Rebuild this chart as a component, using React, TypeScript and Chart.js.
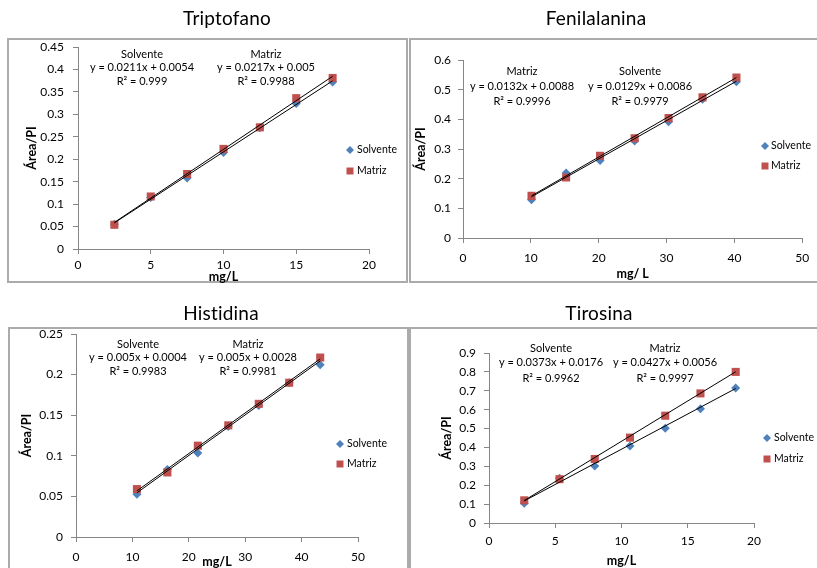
import React, { useEffect, useRef } from 'react';
import { Chart, registerables } from 'chart.js';

Chart.register(...registerables);

const FONT = 'Lato, "Liberation Sans", sans-serif';
const BLUE = '#4F81BD';
const RED = '#C0504D';
const AXIS = '#868686';

// ---- Triptofano ----
const tripX = [2.5, 5, 7.5, 10, 12.5, 15, 17.5];
const tripSolvente = [0.055, 0.115, 0.158, 0.215, 0.27, 0.324, 0.372];
const tripMatriz = [0.054, 0.117, 0.167, 0.223, 0.271, 0.336, 0.381];
const tripFitSolvente = [0.0211, 0.0054]; // slope, intercept
const tripFitMatriz = [0.0217, 0.005];
const tripR2 = [0.999, 0.9988]; // Solvente, Matriz

// ---- Fenilalanina ----
const fenX = [10.1, 15.2, 20.2, 25.3, 30.3, 35.3, 40.3];
const fenSolvente = [0.129, 0.219, 0.261, 0.327, 0.392, 0.468, 0.527];
const fenMatriz = [0.142, 0.204, 0.277, 0.336, 0.404, 0.474, 0.541];
const fenFitSolvente = [0.0129, 0.0086];
const fenFitMatriz = [0.0132, 0.0088];
const fenR2 = [0.9979, 0.9996];

// ---- Histidina ----
const hisX = [10.8, 16.2, 21.6, 27.0, 32.4, 37.8, 43.3];
const hisSolvente = [0.0525, 0.083, 0.1035, 0.136, 0.162, 0.19, 0.212];
const hisMatriz = [0.059, 0.0795, 0.1125, 0.1375, 0.164, 0.19, 0.221];
const hisFitSolvente = [0.005, 0.0004];
const hisFitMatriz = [0.005, 0.0028];
const hisR2 = [0.9983, 0.9981];

// ---- Tirosina ----
const tirX = [2.66, 5.32, 7.98, 10.64, 13.3, 15.96, 18.62];
const tirSolvente = [0.105, 0.237, 0.302, 0.408, 0.501, 0.605, 0.715];
const tirMatriz = [0.12, 0.232, 0.339, 0.452, 0.568, 0.686, 0.8];
const tirFitSolvente = [0.0373, 0.0176];
const tirFitMatriz = [0.0427, 0.0056];
const tirR2 = [0.9962, 0.9997];

const SERIES = ['Solvente', 'Matriz'];

type Block = { series: number; cx: number; ys: number[] };
type Spec = {
  title: string;
  titleAt: [number, number];
  box: [number, number, number, number];
  canvas: [number, number, number, number];
  plot: [number, number, number, number];
  xMax: number;
  xStep: number;
  yMax: number;
  yStep: number;
  xs: number[];
  solvente: number[];
  matriz: number[];
  fits: number[][];
  r2: number[];
  xTitle: string;
  yTitleX: number;
  xTitleY: number;
  yTickRight: number;
  xTickY: number;
  legend: { x: number; ys: number[]; textX: number };
  blocks: Block[];
};

const panels: Spec[] = [
  {
    title: 'Triptofano',
    titleAt: [227, 19],
    box: [7, 38, 401, 245],
    canvas: [9, 0, 397, 290],
    plot: [78, 47, 369, 249],
    xMax: 20, xStep: 5, yMax: 0.45, yStep: 0.05,
    xs: tripX, solvente: tripSolvente, matriz: tripMatriz,
    fits: [tripFitSolvente, tripFitMatriz], r2: tripR2,
    xTitle: 'mg/L', yTitleX: 32, xTitleY: 277,
    yTickRight: 64, xTickY: 265.5,
    legend: { x: 350, ys: [150, 171], textX: 357 },
    blocks: [
      { series: 0, cx: 142, ys: [54, 67, 81] },
      { series: 1, cx: 266, ys: [54, 67, 81] },
    ],
  },
  {
    title: 'Fenilalanina',
    titleAt: [596, 19],
    box: [409, 38, 420, 245],
    canvas: [411, 0, 406, 290],
    plot: [463, 60, 804, 238],
    xMax: 50, xStep: 10, yMax: 0.6, yStep: 0.1,
    xs: fenX, solvente: fenSolvente, matriz: fenMatriz,
    fits: [fenFitSolvente, fenFitMatriz], r2: fenR2,
    xTitle: 'mg/ L', yTitleX: 421, xTitleY: 274,
    yTickRight: 451, xTickY: 258,
    legend: { x: 765, ys: [146, 166], textX: 771 },
    blocks: [
      { series: 1, cx: 522, ys: [71, 86, 101] },
      { series: 0, cx: 640, ys: [71, 86, 101] },
    ],
  },
  {
    title: 'Histidina',
    titleAt: [221, 314],
    box: [8, 327, 401, 260],
    canvas: [10, 295, 397, 283],
    plot: [76, 334, 358, 537],
    xMax: 50, xStep: 10, yMax: 0.25, yStep: 0.05,
    xs: hisX, solvente: hisSolvente, matriz: hisMatriz,
    fits: [hisFitSolvente, hisFitMatriz], r2: hisR2,
    xTitle: 'mg/L', yTitleX: 27, xTitleY: 562,
    yTickRight: 63, xTickY: 557,
    legend: { x: 340, ys: [444, 464], textX: 347 },
    blocks: [
      { series: 0, cx: 138, ys: [344, 357, 371] },
      { series: 1, cx: 248, ys: [344, 357, 371] },
    ],
  },
  {
    title: 'Tirosina',
    titleAt: [599, 314],
    box: [409, 327, 420, 260],
    canvas: [411, 295, 406, 283],
    plot: [489, 353, 754, 523],
    xMax: 20, xStep: 5, yMax: 0.9, yStep: 0.1,
    xs: tirX, solvente: tirSolvente, matriz: tirMatriz,
    fits: [tirFitSolvente, tirFitMatriz], r2: tirR2,
    xTitle: 'mg/L', yTitleX: 447, xTitleY: 561,
    yTickRight: 476, xTickY: 541,
    legend: { x: 767, ys: [438, 459], textX: 774 },
    blocks: [
      { series: 0, cx: 551, ys: [348, 362, 378] },
      { series: 1, cx: 665, ys: [348, 362, 378] },
    ],
  },
];

const TITLE_SIZE = 19;
const TICK_SIZE = 12;
const TICK_LEN = 5;
const AXIS_TITLE_SIZE = 12.5;
const NOTE_SIZE = 11;
const LEGEND_SIZE = 10.5;

const fmt = (v: number) => String(+v.toFixed(4));

// Linear trendline between the smallest and largest concentration.
function trend(xs: number[], fit: number[]) {
  const a = Math.min(...xs);
  const b = Math.max(...xs);
  return [
    { x: a, y: fit[0] * a + fit[1] },
    { x: b, y: fit[0] * b + fit[1] },
  ];
}

function drawMarker(ctx: CanvasRenderingContext2D, kind: number, x: number, y: number) {
  ctx.beginPath();
  if (kind === 0) {
    const r = 4;
    ctx.moveTo(x, y - r);
    ctx.lineTo(x + r, y);
    ctx.lineTo(x, y + r);
    ctx.lineTo(x - r, y);
    ctx.closePath();
    ctx.fillStyle = BLUE;
  } else {
    const s = 7;
    ctx.rect(x - s / 2, y - s / 2, s, s);
    ctx.fillStyle = RED;
  }
  ctx.fill();
}

function Panel({ spec }: { spec: Spec }) {
  const ref = useRef<HTMLCanvasElement>(null);

  useEffect(() => {
    const canvas = ref.current;
    if (!canvas) return;
    const [cl, ct, cw, ch] = spec.canvas;
    const [pl, pt, pr, pb] = spec.plot;
    const cr = cl + cw;
    const cb = ct + ch;
    const tickLH = TICK_SIZE * 1.2;
    const titleLH = AXIS_TITLE_SIZE * 1.2;

    // Chart title, regression labels and the legend.
    const notes = {
      id: 'notes',
      afterDraw(chart: Chart) {
        const ctx = chart.ctx as any;
        ctx.save();
        ctx.fillStyle = '#000';
        ctx.textAlign = 'center';
        ctx.textBaseline = 'middle';
        ctx.font = `${TITLE_SIZE}px ${FONT}`;
        ctx.letterSpacing = '0.2px';
        ctx.fillText(spec.title, spec.titleAt[0] - cl, spec.titleAt[1] - ct);
        ctx.letterSpacing = '0px';
        ctx.font = `${NOTE_SIZE}px ${FONT}`;
        for (const b of spec.blocks) {
          const fit = spec.fits[b.series];
          const lines = [
            SERIES[b.series],
            `y = ${fmt(fit[0])}x + ${fmt(fit[1])}`,
            `R² = ${fmt(spec.r2[b.series])}`,
          ];
          lines.forEach((s, i) => ctx.fillText(s, b.cx - cl, b.ys[i] - ct));
        }
        ctx.font = `${LEGEND_SIZE}px ${FONT}`;
        ctx.textAlign = 'left';
        SERIES.forEach((name, i) => {
          const y = spec.legend.ys[i] - ct;
          drawMarker(ctx, i, spec.legend.x - cl, y);
          ctx.fillStyle = '#000';
          ctx.fillText(name, spec.legend.textX - cl, y);
        });
        ctx.restore();
      },
    };

    const chart = new Chart(canvas, {
      type: 'scatter',
      data: {
        datasets: [
          {
            label: 'Solvente',
            data: spec.xs.map((x, i) => ({ x, y: spec.solvente[i] })),
            pointStyle: 'rectRot',
            pointRadius: 4.5,
            backgroundColor: BLUE,
            borderColor: BLUE,
            borderWidth: 0,
            order: 3,
          },
          {
            label: 'Matriz',
            data: spec.xs.map((x, i) => ({ x, y: spec.matriz[i] })),
            pointStyle: 'rect',
            pointRadius: 5.7,
            backgroundColor: RED,
            borderColor: RED,
            borderWidth: 0,
            order: 2,
          },
          {
            label: 'Lineal (Solvente)',
            data: trend(spec.xs, spec.fits[0]),
            showLine: true,
            pointRadius: 0,
            borderColor: '#000',
            borderWidth: 1,
            order: 1,
          },
          {
            label: 'Lineal (Matriz)',
            data: trend(spec.xs, spec.fits[1]),
            showLine: true,
            pointRadius: 0,
            borderColor: '#000',
            borderWidth: 1,
            order: 0,
          },
        ],
      },
      options: {
        responsive: false,
        animation: false,
        devicePixelRatio: 1,
        layout: { padding: { left: 0, top: pt - ct, right: cr - pr, bottom: 0 } },
        plugins: { legend: { display: false }, tooltip: { enabled: false }, title: { display: false } },
        scales: {
          x: {
            type: 'linear',
            min: 0,
            max: spec.xMax,
            afterFit: (s: any) => { s.height = cb - pb; },
            ticks: {
              stepSize: spec.xStep,
              color: '#000',
              padding: spec.xTickY - pb - TICK_LEN - tickLH / 2,
              font: { family: FONT, size: TICK_SIZE },
              maxRotation: 0,
              callback: (v: any) => fmt(Number(v)),
            },
            grid: { drawOnChartArea: false, drawTicks: true, tickLength: TICK_LEN, color: AXIS },
            border: { color: AXIS },
            title: {
              display: true,
              text: spec.xTitle,
              color: '#000',
              font: { family: FONT, size: AXIS_TITLE_SIZE, weight: 'bold' },
              padding: { top: 0, bottom: cb - spec.xTitleY - titleLH / 2 },
            },
          },
          y: {
            type: 'linear',
            min: 0,
            max: spec.yMax,
            afterFit: (s: any) => { s.width = pl - cl; },
            ticks: {
              stepSize: spec.yStep,
              color: '#000',
              padding: pl - spec.yTickRight - TICK_LEN,
              font: { family: FONT, size: TICK_SIZE },
              callback: (v: any) => fmt(Number(v)),
            },
            grid: { drawOnChartArea: false, drawTicks: true, tickLength: TICK_LEN, color: AXIS },
            border: { color: AXIS },
            title: {
              display: true,
              text: 'Área/PI',
              color: '#000',
              font: { family: FONT, size: AXIS_TITLE_SIZE, weight: 'bold' },
              padding: { top: spec.yTitleX - cl - titleLH / 2, bottom: 0 },
            },
          },
        },
      },
      plugins: [notes],
    });
    return () => chart.destroy();
  }, [spec]);

  const [bl, bt, bw, bh] = spec.box;
  const [cl, ct, cw, ch] = spec.canvas;
  return (
    <>
      <div
        style={{
          position: 'absolute',
          left: bl,
          top: bt,
          width: bw,
          height: bh,
          boxSizing: 'border-box',
          border: '2px solid #ababab',
          background: '#fff',
        }}
      />
      <canvas
        ref={ref}
        width={cw}
        height={ch}
        style={{ position: 'absolute', left: cl, top: ct, width: cw, height: ch }}
      />
    </>
  );
}

export default function App() {
  return (
    <div
      style={{
        position: 'absolute',
        left: 0,
        top: 0,
        width: 817,
        height: 568,
        overflow: 'hidden',
        background: '#fff',
      }}
    >
      {panels.map((p) => (
        <Panel key={p.title} spec={p} />
      ))}
    </div>
  );
}
